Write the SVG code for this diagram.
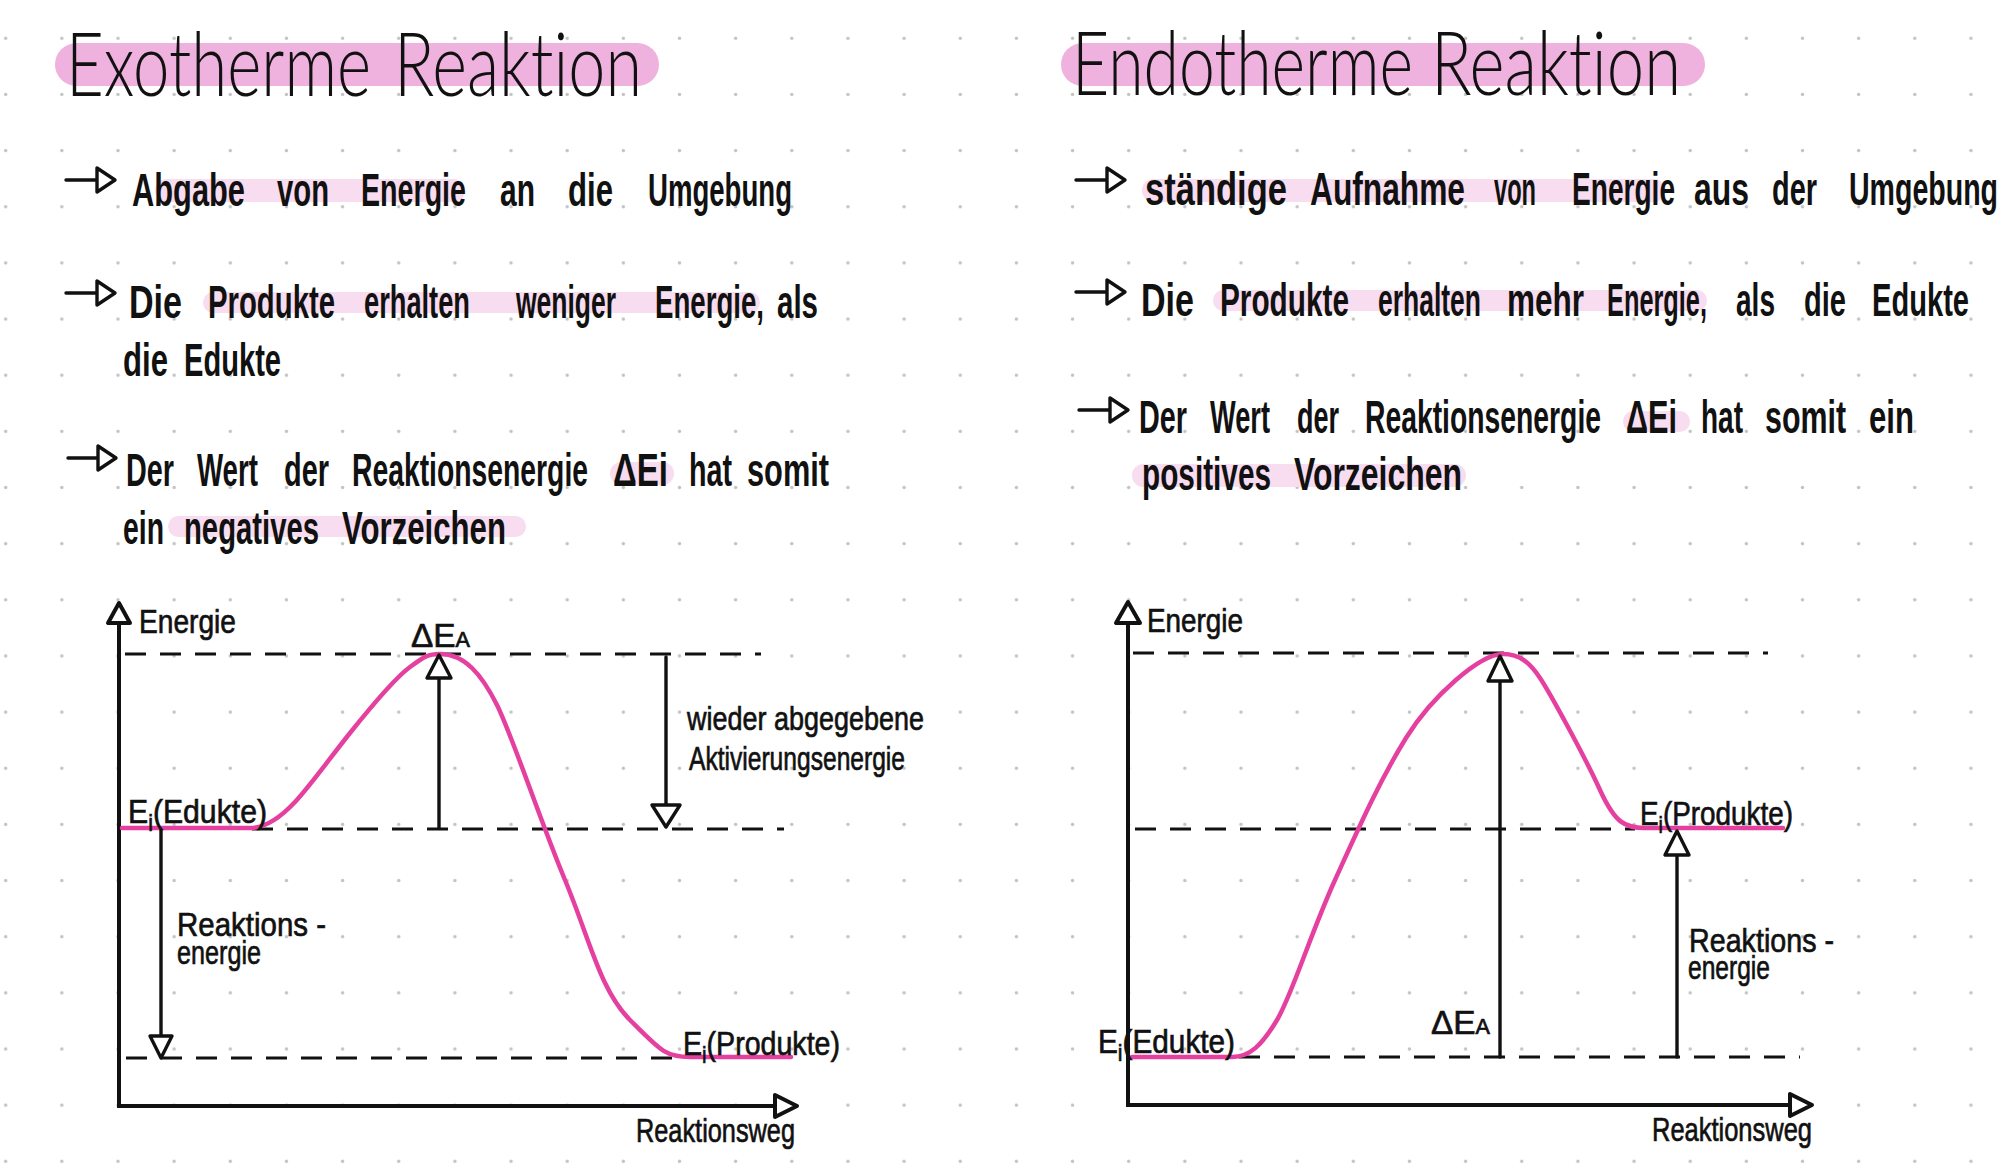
<svg xmlns="http://www.w3.org/2000/svg" width="2001" height="1170" viewBox="0 0 2001 1170">
<defs>
<pattern id="dots" x="-22.375" y="10.225" width="56.15" height="56.15" patternUnits="userSpaceOnUse"><circle cx="28.075" cy="28.075" r="1.7" fill="#c2c2c2"/></pattern>
</defs>
<style>
text{font-family:"Liberation Sans","DejaVu Sans",sans-serif;fill:#111;font-variant-ligatures:none}
.title{font-family:"Lato","Liberation Sans",sans-serif;font-size:88px;font-weight:300}
.body{font-size:47px;font-weight:bold}
.lbl{font-size:34px;stroke:#111;stroke-width:0.7}
.pill{fill:#efb1de}
.hl{fill:#f8dcef}
.ax{stroke:#111;stroke-width:4;fill:none;stroke-linecap:round}
.head{stroke:#111;stroke-width:4;fill:#fff;stroke-linejoin:round}
.arr{stroke:#111;stroke-width:3.4;fill:none;stroke-linecap:round}
.ahead{stroke:#111;stroke-width:3.4;fill:#fff;stroke-linejoin:round}
.dash{stroke:#111;stroke-width:2.8;fill:none;stroke-dasharray:21 14}
.curve{stroke:#e5409f;stroke-width:4.5;fill:none;stroke-linecap:round;stroke-linejoin:round}
</style>
<rect width="2001" height="1170" fill="#fff"/>
<rect width="2001" height="1170" fill="url(#dots)"/>

<!-- LEFT: Exotherme -->
<g id="title-exo">
<rect class="pill" x="55" y="43" width="604" height="43" rx="21.5"/>
<text class="title" y="96"><tspan x="66" textLength="305" lengthAdjust="spacingAndGlyphs">Exotherme</tspan><tspan x="394" textLength="248" lengthAdjust="spacingAndGlyphs">Reaktion</tspan></text>
</g>

<g id="exo-bullet1">
<rect class="hl" x="155" y="179" width="310" height="23" rx="11.5"/>
<path class="arr" d="M66,180 H97"/><path class="ahead" d="M97,168 V192 L115,180 Z"/>
<text class="body" y="206"><tspan x="132" textLength="113" lengthAdjust="spacingAndGlyphs">Abgabe</tspan><tspan x="277" textLength="52" lengthAdjust="spacingAndGlyphs">von</tspan><tspan x="361" textLength="105" lengthAdjust="spacingAndGlyphs">Energie</tspan><tspan x="500" textLength="35" lengthAdjust="spacingAndGlyphs">an</tspan><tspan x="568" textLength="45" lengthAdjust="spacingAndGlyphs">die</tspan><tspan x="648" textLength="144" lengthAdjust="spacingAndGlyphs">Umgebung</tspan></text>
</g>

<g id="exo-bullet2">
<rect class="hl" x="203" y="292" width="557" height="21" rx="10.5"/>
<path class="arr" d="M66,293 H97"/><path class="ahead" d="M97,281 V305 L115,293 Z"/>
<text class="body" y="318"><tspan x="129" textLength="53" lengthAdjust="spacingAndGlyphs">Die</tspan><tspan x="208" textLength="127" lengthAdjust="spacingAndGlyphs">Produkte</tspan><tspan x="364" textLength="106" lengthAdjust="spacingAndGlyphs">erhalten</tspan><tspan x="516" textLength="100" lengthAdjust="spacingAndGlyphs">weniger</tspan><tspan x="655" textLength="109" lengthAdjust="spacingAndGlyphs">Energie,</tspan><tspan x="777" textLength="41" lengthAdjust="spacingAndGlyphs">als</tspan></text>
<text class="body" y="376"><tspan x="123" textLength="45" lengthAdjust="spacingAndGlyphs">die</tspan><tspan x="184" textLength="97" lengthAdjust="spacingAndGlyphs">Edukte</tspan></text>
</g>

<g id="exo-bullet3">
<rect class="hl" x="610" y="462" width="64" height="23" rx="11.5"/>
<rect class="hl" x="168" y="516" width="358" height="21" rx="10.5"/>
<path class="arr" d="M68,458 H98"/><path class="ahead" d="M98,446 V470 L116,458 Z"/>
<text class="body" y="486"><tspan x="126" textLength="48" lengthAdjust="spacingAndGlyphs">Der</tspan><tspan x="197" textLength="61" lengthAdjust="spacingAndGlyphs">Wert</tspan><tspan x="284" textLength="45" lengthAdjust="spacingAndGlyphs">der</tspan><tspan x="352" textLength="236" lengthAdjust="spacingAndGlyphs">Reaktionsenergie</tspan><tspan x="613" textLength="55" lengthAdjust="spacingAndGlyphs">ΔEi</tspan><tspan x="689" textLength="43" lengthAdjust="spacingAndGlyphs">hat</tspan><tspan x="747" textLength="82" lengthAdjust="spacingAndGlyphs">somit</tspan></text>
<text class="body" y="544"><tspan x="123" textLength="41" lengthAdjust="spacingAndGlyphs">ein</tspan><tspan x="184" textLength="135" lengthAdjust="spacingAndGlyphs">negatives</tspan><tspan x="342" textLength="164" lengthAdjust="spacingAndGlyphs">Vorzeichen</tspan></text>
</g>

<!-- RIGHT: Endotherme -->
<g id="title-endo">
<rect class="pill" x="1061" y="43" width="644" height="43" rx="21.5"/>
<text class="title" y="95"><tspan x="1072" textLength="341" lengthAdjust="spacingAndGlyphs">Endotherme</tspan><tspan x="1431" textLength="250" lengthAdjust="spacingAndGlyphs">Reaktion</tspan></text>
</g>

<g id="endo-bullet1">
<rect class="hl" x="1142" y="179" width="523" height="23" rx="11.5"/>
<path class="arr" d="M1076,180 H1107"/><path class="ahead" d="M1107,168 V192 L1125,180 Z"/>
<text class="body" y="205"><tspan x="1145" textLength="142" lengthAdjust="spacingAndGlyphs">ständige</tspan><tspan x="1310" textLength="155" lengthAdjust="spacingAndGlyphs">Aufnahme</tspan><tspan x="1494" textLength="42" lengthAdjust="spacingAndGlyphs">von</tspan><tspan x="1572" textLength="103" lengthAdjust="spacingAndGlyphs">Energie</tspan><tspan x="1694" textLength="55" lengthAdjust="spacingAndGlyphs">aus</tspan><tspan x="1772" textLength="45" lengthAdjust="spacingAndGlyphs">der</tspan><tspan x="1849" textLength="149" lengthAdjust="spacingAndGlyphs">Umgebung</tspan></text>
</g>

<g id="endo-bullet2">
<rect class="hl" x="1213" y="290" width="494" height="21" rx="10.5"/>
<path class="arr" d="M1076,292 H1107"/><path class="ahead" d="M1107,280 V304 L1125,292 Z"/>
<text class="body" y="316"><tspan x="1141" textLength="53" lengthAdjust="spacingAndGlyphs">Die</tspan><tspan x="1220" textLength="129" lengthAdjust="spacingAndGlyphs">Produkte</tspan><tspan x="1378" textLength="103" lengthAdjust="spacingAndGlyphs">erhalten</tspan><tspan x="1507" textLength="77" lengthAdjust="spacingAndGlyphs">mehr</tspan><tspan x="1607" textLength="100" lengthAdjust="spacingAndGlyphs">Energie,</tspan><tspan x="1736" textLength="39" lengthAdjust="spacingAndGlyphs">als</tspan><tspan x="1804" textLength="42" lengthAdjust="spacingAndGlyphs">die</tspan><tspan x="1872" textLength="97" lengthAdjust="spacingAndGlyphs">Edukte</tspan></text>
</g>

<g id="endo-bullet3">
<rect class="hl" x="1623" y="411" width="67" height="21" rx="10.5"/>
<rect class="hl" x="1132" y="464" width="334" height="23" rx="11.5"/>
<path class="arr" d="M1079,410 H1110"/><path class="ahead" d="M1110,398 V422 L1128,410 Z"/>
<text class="body" y="433"><tspan x="1139" textLength="48" lengthAdjust="spacingAndGlyphs">Der</tspan><tspan x="1210" textLength="60" lengthAdjust="spacingAndGlyphs">Wert</tspan><tspan x="1297" textLength="42" lengthAdjust="spacingAndGlyphs">der</tspan><tspan x="1365" textLength="236" lengthAdjust="spacingAndGlyphs">Reaktionsenergie</tspan><tspan x="1626" textLength="51" lengthAdjust="spacingAndGlyphs">ΔEi</tspan><tspan x="1701" textLength="42" lengthAdjust="spacingAndGlyphs">hat</tspan><tspan x="1765" textLength="81" lengthAdjust="spacingAndGlyphs">somit</tspan><tspan x="1869" textLength="45" lengthAdjust="spacingAndGlyphs">ein</tspan></text>
<text class="body" y="490"><tspan x="1142" textLength="129" lengthAdjust="spacingAndGlyphs">positives</tspan><tspan x="1294" textLength="168" lengthAdjust="spacingAndGlyphs">Vorzeichen</tspan></text>
</g>

<!-- LEFT CHART -->
<g id="exo-levels">
<path class="dash" d="M125,654 H761"/>
<path class="dash" d="M252,829 H784"/>
<path class="dash" d="M126,1058 H684"/>
</g>
<g id="exo-axes">
<path class="ax" d="M119,623 V1106 H775"/>
<path class="head" d="M108,623 H130 L119,603 Z"/>
<path class="head" d="M775,1095 V1117 L797,1106 Z"/>
<text class="lbl" x="139" y="633" textLength="97" lengthAdjust="spacingAndGlyphs">Energie</text>
<text class="lbl" x="636" y="1142" textLength="159" lengthAdjust="spacingAndGlyphs">Reaktionsweg</text>
</g>
<g id="exo-curve">
<path class="curve" d="M122,828 L250,828 C265,828 280,818 295,802 S330,758 350,733 S395,678 410,667 S428,654 440,654 C465,654 482,675 497,705 S540,820 565,880 S600,990 630,1020 S665,1057 690,1057 L791,1057"/>
</g>
<g id="exo-labels">
<text class="lbl" x="128" y="823" textLength="139" lengthAdjust="spacingAndGlyphs">E<tspan font-size="24" dy="8">i</tspan><tspan dy="-8">(Edukte)</tspan></text>
<text class="lbl" x="683" y="1055" textLength="157" lengthAdjust="spacingAndGlyphs">E<tspan font-size="24" dy="8">i</tspan><tspan dy="-8">(Produkte)</tspan></text>
<text class="lbl" x="411" y="647" textLength="59" lengthAdjust="spacingAndGlyphs">ΔE<tspan font-size="22">A</tspan></text>
<text class="lbl" x="687" y="730" textLength="237" lengthAdjust="spacingAndGlyphs">wieder abgegebene</text>
<text class="lbl" x="689" y="770" textLength="216" lengthAdjust="spacingAndGlyphs">Aktivierungsenergie</text>
<text class="lbl" x="177" y="936" textLength="149" lengthAdjust="spacingAndGlyphs">Reaktions -</text>
<text class="lbl" x="177" y="964" textLength="84" lengthAdjust="spacingAndGlyphs">energie</text>
</g>

<!-- RIGHT CHART -->
<g id="endo-levels">
<path class="dash" d="M1133,653 H1768"/>
<path class="dash" d="M1135,829 H1635"/>
<path class="dash" d="M1239,1057 H1800"/>
</g>
<g id="endo-axes">
<path class="ax" d="M1128,623 V1105 H1790"/>
<path class="head" d="M1116,623 H1140 L1128,602 Z"/>
<path class="head" d="M1790,1094 V1116 L1812,1105 Z"/>
<text class="lbl" x="1147" y="632" textLength="96" lengthAdjust="spacingAndGlyphs">Energie</text>
<text class="lbl" x="1652" y="1141" textLength="160" lengthAdjust="spacingAndGlyphs">Reaktionsweg</text>
</g>
<g id="endo-curve">
<path class="curve" d="M1132,1057 L1232,1057 C1250,1057 1262,1045 1277,1020 S1310,935 1335,880 S1380,780 1406,738 S1480,654 1503,654 C1520,654 1530,663 1540,678 S1585,757 1600,790 S1625,828 1645,828 L1783,828"/>
</g>
<g id="endo-labels">
<text class="lbl" x="1098" y="1053" textLength="137" lengthAdjust="spacingAndGlyphs">E<tspan font-size="24" dy="8">i</tspan><tspan dy="-8">(Edukte)</tspan></text>
<text class="lbl" x="1640" y="825" textLength="153" lengthAdjust="spacingAndGlyphs">E<tspan font-size="24" dy="8">i</tspan><tspan dy="-8">(Produkte)</tspan></text>
<text class="lbl" x="1431" y="1034" textLength="59" lengthAdjust="spacingAndGlyphs">ΔE<tspan font-size="22">A</tspan></text>
<text class="lbl" x="1689" y="952" textLength="145" lengthAdjust="spacingAndGlyphs">Reaktions -</text>
<text class="lbl" x="1688" y="979" textLength="82" lengthAdjust="spacingAndGlyphs">energie</text>
</g>

<!-- connectors -->
<g id="connectors">
<path class="arr" d="M439,828 V678"/><path class="ahead" d="M427,678 H451 L439,655 Z"/>
<path class="arr" d="M666,657 V805"/><path class="ahead" d="M652,805 H680 L666,827 Z"/>
<path class="arr" d="M161,830 V1036"/><path class="ahead" d="M150,1036 H172 L161,1058 Z"/>
<path class="arr" d="M1500,1057 V681"/><path class="ahead" d="M1488,681 H1512 L1500,656 Z"/>
<path class="arr" d="M1677,1057 V855"/><path class="ahead" d="M1665,855 H1689 L1677,831 Z"/>
</g>
</svg>
